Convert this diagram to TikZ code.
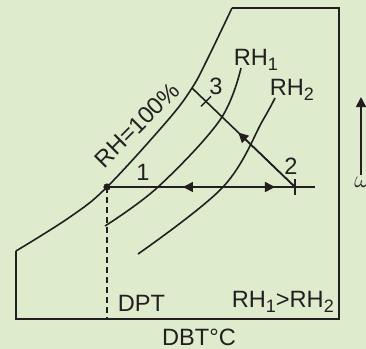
\documentclass[tikz,border=0pt]{standalone}
\usepackage{fontspec}
\setmainfont{Liberation Sans}
\usetikzlibrary{arrows.meta, positioning, calc}
\definecolor{cbg}{HTML}{DEEBCD}
\definecolor{cink}{HTML}{231F20}
\newcommand{\lowsub}[1]{\raisebox{-0.45ex}{\fontsize{9}{10}\selectfont #1}}
\tikzset{
  every picture/.style={font=\fontsize{11.8}{14}\selectfont, line width=0.8pt},
  curve/.style={draw=cink, line width=0.8pt},
  arrow/.style={-{Triangle[length=5pt, width=5pt]}, draw=cink, line width=0.8pt},
  tag/.style={text=cink, inner sep=0pt},
  tickmark/.style={draw=cink, line width=0.7pt},
}
\begin{document}
\begin{tikzpicture}[x=0.5pt, y=-0.5pt]
  % background, fixes the margins
  \fill[cbg] (0,0) rectangle (366,349);
  \useasboundingbox (0,0) rectangle (366,349);
  % chart frame
  \draw[curve] (232,8) -- (339,8) -- (339,319) -- (16,319) -- (16,251);
  % saturation line, RH = 100%
  \draw[curve] plot[smooth, tension=0.6] coordinates
    {(16,251) (70,217) (107,187) (168,120) (192,88) (207,60) (232,8)};
  % RH1 and RH2
  \draw[curve] plot[smooth, tension=0.6] coordinates
    {(241,68) (220,120) (158,187) (105,226)};
  \draw[curve] plot[smooth, tension=0.6] coordinates
    {(275,98) (263,120) (223,187) (138,254)};
  % state points
  \coordinate (pt1) at (107,187);
  \coordinate (pt2) at (295,187);
  \coordinate (satpt) at (192,88);
  \coordinate (pt3) at ($(satpt)!0.135!(pt2)$);
  \coordinate (hend) at (315,187);
  \coordinate (ltip) at (183,187);
  \coordinate (rtip) at (275,187);
  \coordinate (tip23) at ($(pt2)!0.55!(satpt)$);
  \coordinate (dptfoot) at (107,319);
  % process lines
  \draw[curve] (pt1) -- (hend);
  \draw[arrow] (pt2) -- (ltip);
  \draw[arrow] (pt1) -- (rtip);
  \draw[curve] (pt2) -- (satpt);
  \draw[arrow] (pt2) -- (tip23);
  \draw[tickmark] ($(pt2)+(0,-8)$) -- ($(pt2)+(0,8)$);
  \draw[tickmark] ($(pt3)+(5,-5)$) -- ($(pt3)+(-5,5)$);
  \fill[cink] (pt1) circle[radius=1.8pt];
  \draw[cink, line width=0.6pt, dash pattern=on 3pt off 2pt] (pt1) -- (dptfoot);
  % humidity ratio axis arrow
  \coordinate (wfoot) at (361,175);
  \coordinate (wtip) at (361,97);
  \draw[arrow] (wfoot) -- (wtip);
  \node[tag] (wlab) at (362,182) {$\omega$};
  % texts
  \node[tag] (n1) at (143,172) {1};
  \node[tag] (n2) at (291,166) {2};
  \node[tag] (n3) at (216,86) {3};
  \node[tag, anchor=base west] (rh1) at (233,65) {RH\lowsub{1}};
  \node[tag, anchor=base west] (rh2) at (269,95) {RH\lowsub{2}};
  \node[tag, rotate=45] (rhsat) at (137,125) {RH=100\%};
  \node[tag, anchor=base west] (dpt) at (117,311) {DPT};
  \node[tag, anchor=base west] (rhcmp) at (231,307) {RH\lowsub{1}>RH\lowsub{2}};
  \node[tag, anchor=base] (dbt) at (199,345) {DBT°C};
\end{tikzpicture}
\end{document}
